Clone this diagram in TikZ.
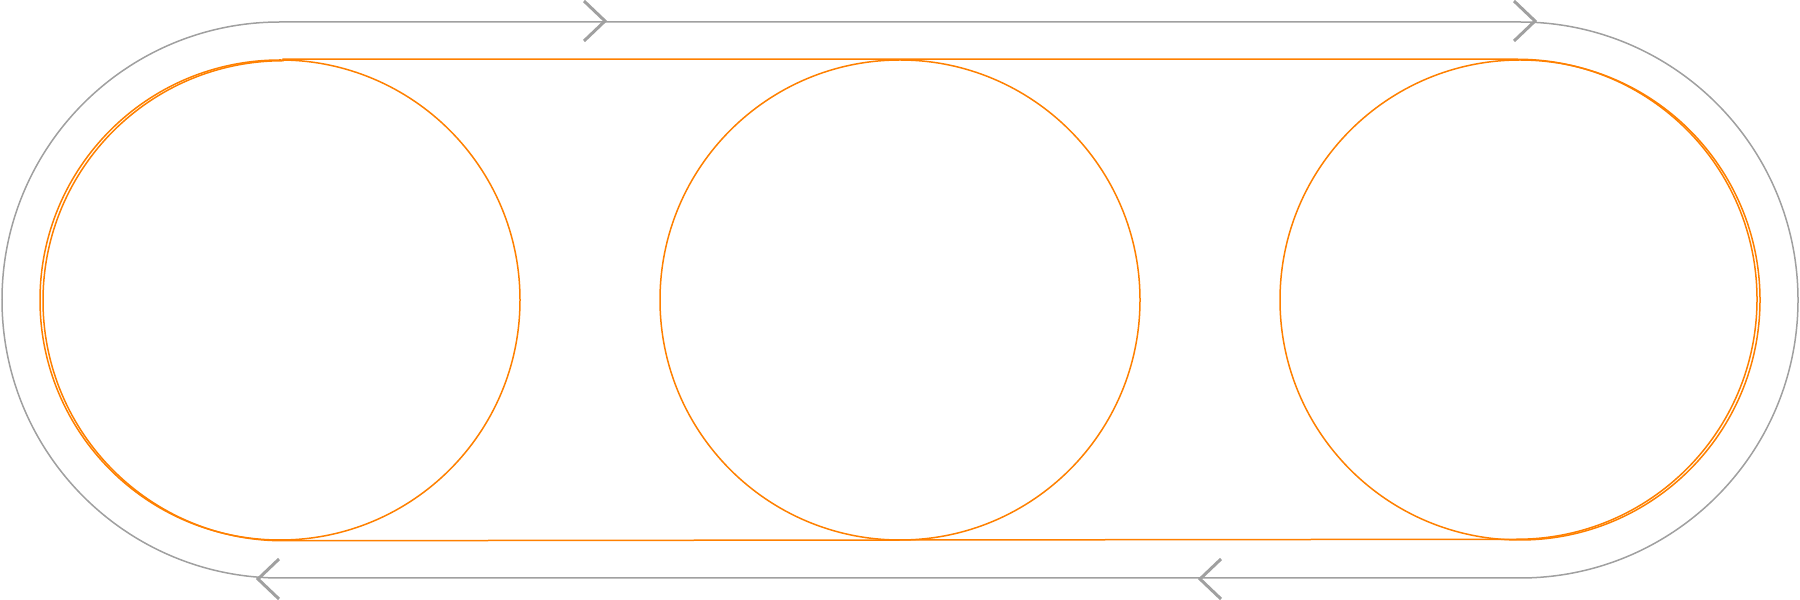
\documentclass[tikz,border=0pt]{standalone}
\usetikzlibrary{positioning}
\definecolor{beltc}{HTML}{FF8000}
\definecolor{loopc}{HTML}{A0A0A0}

\begin{document}
\begin{tikzpicture}[
    x=1pt, y=1pt,
    wheel/.style={circle, draw=beltc, line width=1.5pt, inner sep=0pt,
                  minimum size=480pt},
    belt/.style={draw=beltc, line width=1.5pt},
    track/.style={draw=loopc, line width=1.5pt},
    chev/.style={draw=loopc, line width=3pt},
]
\useasboundingbox (0,0) rectangle (1800,600);

% wheels
\node[wheel] (left)  at (280,300)  {};
\node[wheel] (mid)   at (900,300)  {};
\node[wheel] (right) at (1520,300) {};

% belt round the outer wheels
\draw[belt] ([xshift=3pt]left.north) -- ([xshift=-3pt]right.north)
    arc[start angle=90, end angle=-90, radius=240]
    -- ([xshift=3pt]left.south)
    arc[start angle=270, end angle=90, radius=240] -- cycle;

% direction loop
\coordinate (tl) at (280,578);
\coordinate (tr) at (1520,578);
\draw[track] (tl) -- (tr)
    arc[start angle=90, end angle=-90, radius=278]
    -- (280,22)
    arc[start angle=270, end angle=90, radius=278] -- cycle;

% chevrons
\foreach \x/\y/\d in {605/579/1, 1535/579/1, 258/21/-1, 1200/21/-1}
    \draw[chev] (\x-21*\d,\y+20) -- (\x,\y) -- (\x-21*\d,\y-20);

\end{tikzpicture}
\end{document}
